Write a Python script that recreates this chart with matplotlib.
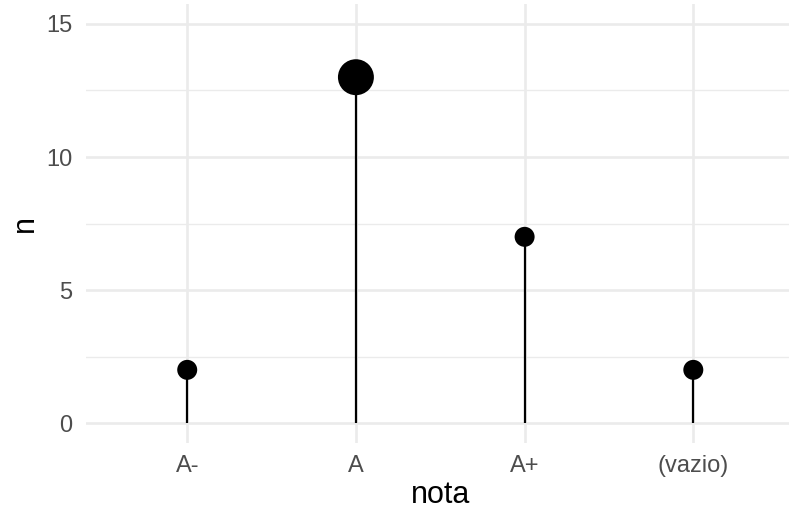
import matplotlib.pyplot as plt
from matplotlib.ticker import MultipleLocator

plt.rcParams['font.family'] = ['Liberation Sans', 'DejaVu Sans']

nota = ["A-", "A", "A+", "(vazio)"]
n = [2, 13, 7, 2]
dot_size = [207, 670, 207, 207]

fig = plt.figure(figsize=(7.89, 5.17), dpi=100)
ax = fig.add_axes([0.109, 0.1431, 0.898, 0.8491])

x = list(range(1, len(nota) + 1))
ax.vlines(x, 0, n, color="black", linewidth=1.6, zorder=3)
ax.scatter(x, n, s=dot_size, color="black", zorder=4, linewidths=0)

ax.set_xlim(0.4, 4.6)
ax.set_ylim(-0.75, 15.75)
ax.set_xticks(x)
ax.set_xticklabels(nota)
ax.yaxis.set_major_locator(MultipleLocator(5))
ax.yaxis.set_minor_locator(MultipleLocator(2.5))

ax.grid(which="major", color="#EBEBEB", linewidth=1.9)
ax.grid(which="minor", axis="y", color="#EBEBEB", linewidth=0.95)
ax.set_axisbelow(True)
for s in ax.spines.values():
    s.set_visible(False)
ax.tick_params(which="both", length=0, labelsize=17, labelcolor="#4D4D4D")
ax.tick_params(axis="x", pad=8.5)
ax.tick_params(axis="y", pad=10)

ax.set_xlabel("nota", fontsize=22, labelpad=2)
ax.set_ylabel("n", fontsize=22, labelpad=4)

fig.savefig("out.png", dpi=100)
